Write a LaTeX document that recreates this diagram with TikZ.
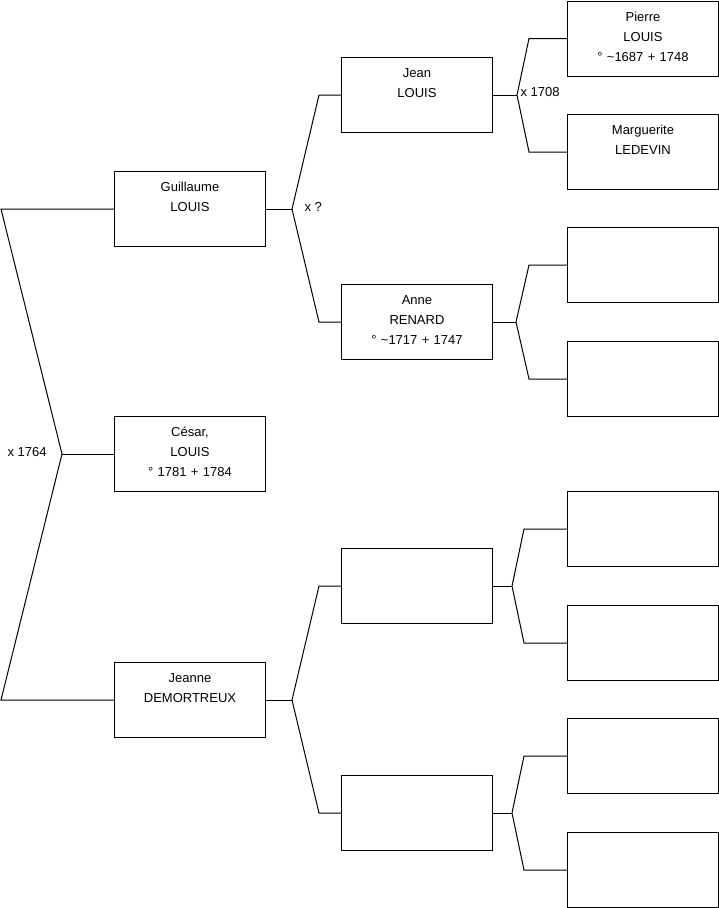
\documentclass[tikz,border=0pt]{standalone}
\usepackage{fontspec}
\setmainfont{Liberation Sans}
\begin{document}
\begin{tikzpicture}[x=1pt,y=-1pt,line width=1pt,
  person/.style={draw, anchor=north west, inner sep=0pt, minimum width=151pt,
    text width=151pt, align=center, text height=20pt, text depth=55pt,
    font=\fontsize{13}{20}\selectfont},
  lbl/.style={anchor=west, inner sep=0pt, font=\fontsize{13}{15}\selectfont}]
\useasboundingbox (0,0) rectangle (719,908);
% generation 1
\node[person] (g) at (114,171) {Guillaume\\LOUIS};
\node[person] (c) at (114,416) {César,\\LOUIS\\° 1781 + 1784};
\node[person] (j) at (114,662) {Jeanne\\DEMORTREUX};
% generation 2
\node[person] (jl) at (341,57) {Jean\\LOUIS};
\node[person] (ar) at (341,284) {Anne\\RENARD\\° \textasciitilde 1717 + 1747};
\node[person] (m1) at (341,548) {};
\node[person] (m2) at (341,775) {};
% generation 3
\node[person] (p) at (567,0.5) {Pierre\\LOUIS\\° \textasciitilde 1687 + 1748};
\node[person] (mg) at (567,114) {Marguerite\\LEDEVIN};
\node[person] (e1) at (567,227) {};
\node[person] (e2) at (567,341) {};
\node[person] (e3) at (567,491) {};
\node[person] (e4) at (567,605) {};
\node[person] (e5) at (567,718) {};
\node[person] (e6) at (567,832) {};
% root fork
\coordinate (root) at ([xshift=-52pt]c.west);
\draw (g.west) -- ([xshift=-113pt]g.west) -- (root) -- ([xshift=-113pt]j.west) -- (j.west);
\draw (c.west) -- (root);
% gen1 -> gen2 forks
\draw (g.east) -- ++(26,0) coordinate (fg);
\draw (jl.west) -- ++(-22,0) -- (fg) -- ([xshift=-22pt]ar.west) -- (ar.west);
\draw (j.east) -- ++(26,0) coordinate (fj);
\draw (m1.west) -- ++(-22,0) -- (fj) -- ([xshift=-22pt]m2.west) -- (m2.west);
% gen2 -> gen3 forks
\draw (jl.east) -- ++(24,0) coordinate (fjl);
\draw (p.west) -- ++(-38,0) -- (fjl) -- ([xshift=-38pt]mg.west) -- (mg.west);
\draw (ar.east) -- ++(23,0) coordinate (far);
\draw (e1.west) -- ++(-38,0) -- (far) -- ([xshift=-38pt]e2.west) -- (e2.west);
\draw (m1.east) -- ++(19,0) coordinate (fm1);
\draw (e3.west) -- ++(-43,0) -- (fm1) -- ([xshift=-43pt]e4.west) -- (e4.west);
\draw (m2.east) -- ++(19,0) coordinate (fm2);
\draw (e5.west) -- ++(-43,0) -- (fm2) -- ([xshift=-43pt]e6.west) -- (e6.west);
% marriage labels
\node[lbl] (l1) at (7,452) {x 1764};
\node[lbl] (l2) at (304,207) {x ?};
\node[lbl] (l3) at (520,92) {x 1708};
\end{tikzpicture}
\end{document}
